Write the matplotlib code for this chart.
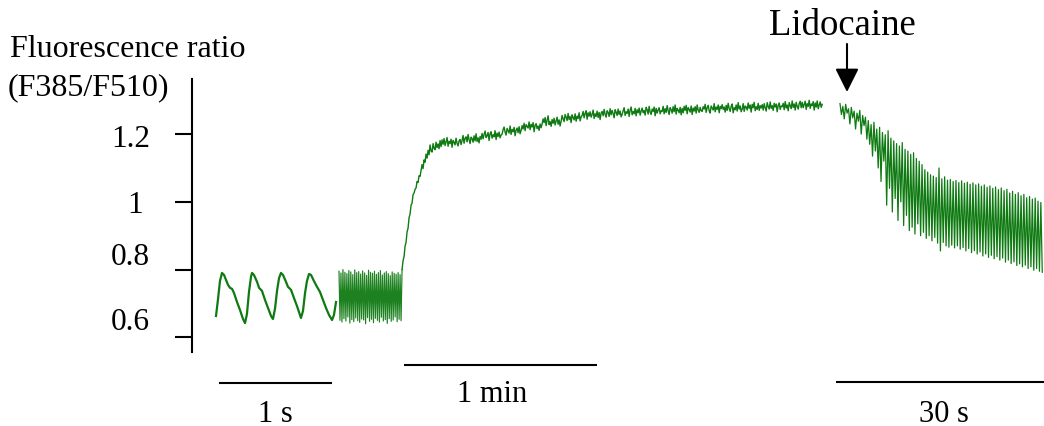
import numpy as np
import matplotlib
matplotlib.use('Agg')
import matplotlib.pyplot as plt
from matplotlib.transforms import IdentityTransform, blended_transform_factory

plt.rcParams['font.family'] = ['Liberation Serif', 'DejaVu Serif']

# ---------------- data ----------------
# y axis
ytick_values = [0.6, 0.8, 1.0, 1.2]
ytick_labels = ['0.6', '0.8', '1', '1.2']

# Segment 1: slow pacing, 4 beats (time in ms, fluorescence ratio)
seg1_t_ms = [0, 18, 35, 53, 71, 88, 106, 124, 142, 159,
             186, 212, 239, 257, 274, 292, 310, 319, 336, 363,
             381, 407, 434, 460, 487, 504, 522, 540, 558, 575,
             593, 619, 637, 664, 690, 717, 743, 752, 770, 788,
             805, 823, 841, 867, 894, 920, 947, 973, 1000, 1027,
             1044, 1062]
seg1_ratio = [.663, .713, .766, .790, .784, .770, .755, .746, .743, .731,
              .704, .681, .654, .642, .669, .734, .779, .790, .784, .764,
              .746, .737, .710, .687, .663, .654, .684, .737, .775, .790,
              .784, .764, .749, .740, .716, .692, .666, .657, .678, .731,
              .766, .787, .784, .766, .749, .734, .710, .687, .666, .651,
              .666, .704]

# Segment 2: fast pacing (compressed time, s); peaks and troughs alternate
seg2_peaks = [.795, .790, .800, .792, .788, .797, .793, .785, .799, .791,
              .794, .787, .796, .790, .783, .798, .792, .789, .795, .786,
              .791, .797, .784, .790, .794, .788, .782, .793, .789, .786,
              .791, .785, .800]
seg2_troughs = [.650, .645, .655, .648, .660, .642, .652, .646, .657, .649,
                .644, .654, .651, .640, .658, .647, .653, .643, .656, .650,
                .645, .659, .648, .652, .641, .655, .647, .651, .660, .646,
                .653, .649]
seg2_duration_s = 19.6

# Segment 3: rise and plateau (sampled every 0.311 s, starting at 19.6 s)
seg3_dt_s = 0.311
seg3_ratio = [
    .800, .826, .838, .869, .880, .911, .922, .953, .964, .990,
    .996, 1.021, 1.026, 1.037, 1.041, 1.060, 1.057, 1.077, 1.075, 1.093,
    1.110, 1.098, 1.124, 1.117, 1.141, 1.129, 1.152, 1.139, 1.168, 1.150,
    1.147, 1.172, 1.158, 1.154, 1.176, 1.160, 1.171, 1.157, 1.181, 1.163,
    1.183, 1.170, 1.187, 1.166, 1.177, 1.190, 1.164, 1.179, 1.172, 1.185,
    1.161, 1.181, 1.176, 1.168, 1.188, 1.173, 1.165, 1.180, 1.184, 1.169,
    1.181, 1.196, 1.173, 1.188, 1.192, 1.177, 1.199, 1.184, 1.172, 1.191,
    1.187, 1.176, 1.195, 1.180, 1.201, 1.178, 1.189, 1.174, 1.193, 1.185,
    1.202, 1.186, 1.199, 1.209, 1.190, 1.195, 1.205, 1.181, 1.201, 1.207,
    1.188, 1.198, 1.192, 1.210, 1.184, 1.203, 1.193, 1.206, 1.189, 1.197,
    1.200, 1.213, 1.221, 1.206, 1.197, 1.217, 1.210, 1.203, 1.224, 1.199,
    1.214, 1.207, 1.220, 1.195, 1.212, 1.218, 1.204, 1.222, 1.201, 1.211,
    1.225, 1.215, 1.232, 1.210, 1.228, 1.223, 1.218, 1.236, 1.213, 1.229,
    1.221, 1.234, 1.207, 1.226, 1.231, 1.216, 1.224, 1.211, 1.230, 1.219,
    1.230, 1.245, 1.234, 1.249, 1.225, 1.241, 1.254, 1.228, 1.237, 1.223,
    1.243, 1.232, 1.247, 1.227, 1.239, 1.250, 1.229, 1.242, 1.224, 1.238,
    1.255, 1.245, 1.237, 1.258, 1.250, 1.240, 1.261, 1.243, 1.252, 1.234,
    1.257, 1.249, 1.242, 1.260, 1.238, 1.253, 1.246, 1.263, 1.239, 1.251,
    1.255, 1.267, 1.248, 1.261, 1.269, 1.244, 1.263, 1.253, 1.266, 1.250,
    1.258, 1.271, 1.246, 1.260, 1.252, 1.268, 1.249, 1.264, 1.243, 1.262,
    1.267, 1.254, 1.273, 1.259, 1.250, 1.269, 1.264, 1.252, 1.275, 1.257,
    1.270, 1.261, 1.248, 1.272, 1.265, 1.255, 1.274, 1.258, 1.268, 1.251,
    1.258, 1.269, 1.278, 1.255, 1.266, 1.261, 1.274, 1.252, 1.271, 1.280,
    1.257, 1.267, 1.260, 1.276, 1.254, 1.272, 1.263, 1.277, 1.256, 1.268,
    1.277, 1.263, 1.270, 1.256, 1.279, 1.272, 1.259, 1.282, 1.265, 1.258,
    1.274, 1.267, 1.280, 1.254, 1.276, 1.262, 1.271, 1.278, 1.260, 1.269,
    1.267, 1.282, 1.260, 1.275, 1.264, 1.284, 1.269, 1.258, 1.278, 1.272,
    1.262, 1.281, 1.266, 1.286, 1.259, 1.276, 1.271, 1.263, 1.279, 1.257,
    1.276, 1.263, 1.282, 1.270, 1.285, 1.260, 1.278, 1.273, 1.265, 1.283,
    1.258, 1.277, 1.268, 1.281, 1.262, 1.286, 1.271, 1.264, 1.279, 1.269,
    1.267, 1.281, 1.274, 1.288, 1.264, 1.278, 1.285, 1.269, 1.262, 1.283,
    1.277, 1.271, 1.290, 1.266, 1.280, 1.273, 1.286, 1.263, 1.282, 1.275,
    1.287, 1.273, 1.280, 1.265, 1.285, 1.270, 1.291, 1.276, 1.267, 1.282,
    1.289, 1.263, 1.278, 1.272, 1.286, 1.268, 1.293, 1.274, 1.283, 1.266,
    1.274, 1.290, 1.267, 1.283, 1.280, 1.271, 1.292, 1.276, 1.286, 1.265,
    1.288, 1.278, 1.294, 1.269, 1.281, 1.273, 1.291, 1.270, 1.284, 1.277,
    1.287, 1.271, 1.290, 1.278, 1.268, 1.293, 1.282, 1.274, 1.295, 1.276,
    1.284, 1.270, 1.291, 1.280, 1.289, 1.266, 1.285, 1.292, 1.273, 1.283,
    1.281, 1.291, 1.272, 1.296, 1.277, 1.286, 1.269, 1.293, 1.284, 1.275,
    1.298, 1.279, 1.289, 1.271, 1.294, 1.282, 1.274, 1.290, 1.297, 1.278,
    1.294, 1.278, 1.287, 1.297, 1.273, 1.290, 1.282, 1.300, 1.276, 1.289,
    1.284, 1.296, 1.271, 1.292, 1.280, 1.298, 1.275, 1.286, 1.295, 1.279,
    1.288]

# Segment 4: after lidocaine (s); peaks and troughs alternate
seg4_dt_s = 0.204
seg4_peaks = [1.290, 1.282, 1.288, 1.275, 1.279, 1.268, 1.262, 1.270, 1.255, 1.250,
              1.240, 1.228, 1.235, 1.215, 1.220, 1.205, 1.198, 1.210, 1.188, 1.180,
              1.172, 1.165, 1.175, 1.155, 1.150, 1.140, 1.145, 1.128, 1.120, 1.110,
              1.095, 1.088, 1.080, 1.076, 1.072, 1.100, 1.068, 1.074, 1.064, 1.066,
              1.060, 1.063, 1.057, 1.062, 1.055, 1.058, 1.052, 1.056, 1.050, 1.053,
              1.046, 1.050, 1.043, 1.047, 1.040, 1.044, 1.036, 1.041, 1.033, 1.037,
              1.026, 1.031, 1.022, 1.027, 1.018, 1.022, 1.012, 1.016, 1.008, 1.011,
              1.002, 0.998]
seg4_troughs = [1.258, 1.245, 1.262, 1.230, 1.248, 1.215, 1.238, 1.200, 1.225, 1.185,
                1.170, 1.135, 1.150, 1.100, 1.060, 1.120, 0.990, 1.040, 0.970, 1.010,
                0.945, 1.000, 0.930, 0.960, 0.915, 0.925, 0.905, 0.935, 0.900, 0.910,
                0.892, 0.900, 0.885, 0.895, 0.878, 0.855, 0.880, 0.870, 0.866, 0.872,
                0.864, 0.870, 0.860, 0.865, 0.855, 0.862, 0.850, 0.856, 0.846, 0.852,
                0.840, 0.846, 0.836, 0.842, 0.832, 0.838, 0.828, 0.834, 0.822, 0.828,
                0.818, 0.823, 0.812, 0.817, 0.808, 0.813, 0.803, 0.808, 0.798, 0.803,
                0.795, 0.792]

# Scale bars (length in the segment's time unit, label)
bar1_len_s, bar1_label = 1.0, '1 s'
bar2_len_s, bar2_label = 60.0, '1 min'
bar3_len_s, bar3_label = 30.0, '30 s'

# ---------------- layout ----------------
W, H = 1044, 427
DPI = 100
YLIM = (0.338, 1.599)
GREEN = '#0f7a12'
FS = 22

fig = plt.figure(figsize=(W / DPI, H / DPI), dpi=DPI)
fig.patch.set_facecolor('white')

ax0 = fig.add_axes([0, 0, 1, 1])
ax0.set_xlim(0, W)
ax0.set_ylim(*YLIM)
ax0.patch.set_visible(False)
for s in ['top', 'right', 'bottom']:
    ax0.spines[s].set_visible(False)
ax0.spines['left'].set_position(('data', 192))
ax0.spines['left'].set_bounds(0.556, 1.362)
ax0.spines['left'].set_linewidth(1.5)
ax0.set_xticks([])
ax0.set_yticks(ytick_values)
ax0.tick_params(axis='y', direction='out', length=12, width=1.5, labelleft=False)

ident = IdentityTransform()
# tick labels (center x in px, baseline offset from tick in px, downward positive)
lab_cx = [130, 130, 135, 131]
lab_dy = [-8, -6, 10, 12]
for v, lab, cx, dy in zip(ytick_values, ytick_labels, lab_cx, lab_dy):
    ydisp = ax0.transData.transform((0, v))[1] - dy
    fig.text(cx, ydisp, lab, transform=ident, ha='center', va='baseline', fontsize=22.5)

fig.text(10, H - 57, 'Fluorescence ratio', transform=ident, ha='left', va='baseline', fontsize=23)
fig.text(8, H - 95, '(F385/F510)', transform=ident, ha='left', va='baseline', fontsize=23)
fig.text(842, H - 35, 'Lidocaine', transform=ident, ha='center', va='baseline', fontsize=26.5)
ax0.annotate('', xy=(847, H - 93), xytext=(847, H - 45), xycoords='figure pixels',
             textcoords='figure pixels',
             arrowprops=dict(arrowstyle='-|>,head_length=0.72,head_width=0.36',
                             mutation_scale=20, lw=1.5, color='black',
                             shrinkA=0, shrinkB=0))


def trace_axes(x0_px, px_per_unit, xmin, xmax):
    left = x0_px + xmin * px_per_unit
    width = (xmax - xmin) * px_per_unit
    ax = fig.add_axes([left / W, 0, width / W, 1])
    ax.set_xlim(xmin, xmax)
    ax.set_ylim(*YLIM)
    ax.axis('off')
    ax.patch.set_visible(False)
    return ax


def scale_bar(ax, start, length, y_px, label, label_frac, label_base_px):
    tr = blended_transform_factory(ax.transData, ax.transAxes)
    yb = 1 - y_px / H
    ax.plot([start, start + length], [yb, yb], color='black', lw=1.5,
            transform=tr, clip_on=False, solid_capstyle='butt')
    ax.text(start + label_frac * length, 1 - label_base_px / H, label,
            transform=tr, ha='center', va='baseline', fontsize=FS)


# Segment 1 axes (seconds)
ax1 = trace_axes(216, 113, -0.2, 1.15)
ax1.plot(np.array(seg1_t_ms) / 1000.0, seg1_ratio, color=GREEN, lw=1.6,
         solid_joinstyle='round')
scale_bar(ax1, 0.027, bar1_len_s, 384, bar1_label, 0.5, 422)

# Segment 2 + 3 axes (seconds)
ax2 = trace_axes(339, 193 / 60, -1, 152)
seg2_vals = []
for i in range(len(seg2_troughs)):
    seg2_vals += [seg2_peaks[i], seg2_troughs[i]]
seg2_vals.append(seg2_peaks[-1])
seg2_t = np.linspace(0, seg2_duration_s, len(seg2_vals))
seg3_t = seg2_duration_s + np.arange(len(seg3_ratio)) * seg3_dt_s
ax2.plot(seg2_t, seg2_vals, color=GREEN, lw=0.85, alpha=0.95)
ax2.plot(seg3_t, seg3_ratio, color=GREEN, lw=1.0)
scale_bar(ax2, 20.2, bar2_len_s, 366, bar2_label, 0.455, 402)

# Segment 4 axes (seconds)
ax3 = trace_axes(840, 208 / 30, -1, 29.45)
seg4_vals = []
for p, t in zip(seg4_peaks, seg4_troughs):
    seg4_vals += [p, t]
seg4_t = np.arange(len(seg4_vals)) * seg4_dt_s
ax3.plot(seg4_t, seg4_vals, color=GREEN, lw=0.9)
scale_bar(ax3, -0.577, bar3_len_s, 383, bar3_label, 0.517, 422)

fig.savefig('out.png', dpi=DPI, facecolor='white')
